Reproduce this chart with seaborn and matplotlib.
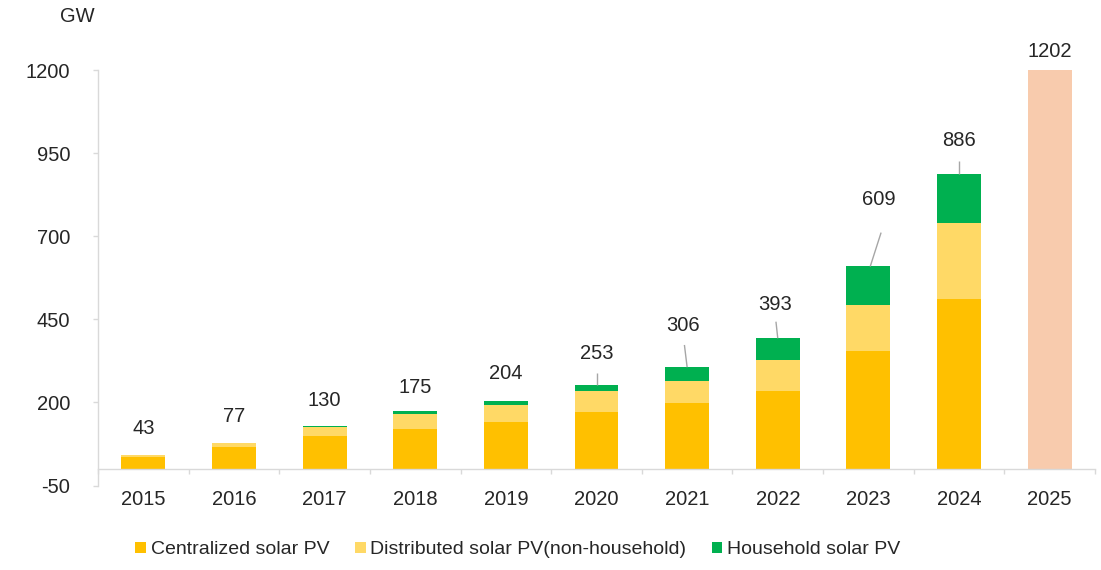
import matplotlib
matplotlib.use("Agg")
import matplotlib.pyplot as plt
from matplotlib.patches import Patch
from matplotlib.ticker import FixedLocator
import seaborn as sns
import pandas as pd
import numpy as np

# ---------------- data ----------------
years = ["2015", "2016", "2017", "2018", "2019", "2020",
         "2021", "2022", "2023", "2024", "2025"]
stack_years = years[:10]
centralized = [37, 67, 100, 120, 141, 172, 198, 234, 354, 511]
distributed = [6, 10, 27, 45, 51, 62, 68, 94, 140, 229]
household = [0, 0, 3, 10, 12, 19, 40, 65, 115, 146]
forecast_year = ["2025"]
forecast_value = [1202]
total_labels = [43, 77, 130, 175, 204, 253, 306, 393, 609, 886, 1202]
series_names = ["Centralized solar PV", "Distributed solar PV(non-household)",
                "Household solar PV"]
yticks = [-50, 200, 450, 700, 950, 1200]

# ---------------- annotation layout (data units) ----------------
label_y = [123, 159, 207, 246, 288, 346, 433, 496, 812, 987, 1255]
label_dx = [0, 0, 0, 0, 0, 0, -0.04, -0.03, 0.12, 0, 0]
leader_top = [None, None, None, None, None, 290, 373, 443, 711, 927, None]
leader_top_dx = [0, 0, 0, 0, 0, 0, -0.03, -0.02, 0.14, 0, 0]
leader_bot_dx = [0, 0, 0, 0, 0, 0, 0, 0, 0.02, 0, 0]

c_cent = "#FFC000"
c_dist = "#FFD966"
c_house = "#00B050"
c_fore = "#F8CBAD"
axis_col = "#D9D9D9"
text_col = "#262626"

sns.set_theme(style="white")
plt.rcParams["font.family"] = ["Liberation Sans", "DejaVu Sans"]

df = pd.DataFrame({"year": stack_years, "cent": centralized,
                   "dist": distributed, "house": household})
df["lvl1"] = df["cent"]
df["lvl2"] = df["cent"] + df["dist"]
df["lvl3"] = df["lvl2"] + df["house"]
df_f = pd.DataFrame({"year": forecast_year, "value": forecast_value})

fig = plt.figure(figsize=(11.01, 5.70), dpi=100)
ax = fig.add_axes([98 / 1101, (570 - 485.6) / 570, (1095 - 98) / 1101, (485.6 - 70) / 570])

bw = 0.485
common = dict(order=years, width=bw, errorbar=None, saturation=1, linewidth=0, ax=ax)
sns.barplot(data=df, x="year", y="lvl3", color=c_house, **common)
sns.barplot(data=df, x="year", y="lvl2", color=c_dist, **common)
sns.barplot(data=df, x="year", y="lvl1", color=c_cent, **common)
sns.barplot(data=df_f, x="year", y="value", color=c_fore, **common)

ax.set_xlim(-0.5, 10.5)
ax.set_ylim(-50, 1200)
ax.set_xlabel("")
ax.set_ylabel("")

for s in ["top", "right"]:
    ax.spines[s].set_visible(False)
for s in ["left", "bottom"]:
    ax.spines[s].set_color(axis_col)
    ax.spines[s].set_linewidth(1)
ax.spines["bottom"].set_position(("data", 0))

ax.set_yticks(yticks)
ax.set_yticklabels([str(v) for v in yticks])
ax.tick_params(axis="y", length=3.6, width=1, color=axis_col, pad=16.5,
               labelsize=14.5, labelcolor=text_col, left=True)
ax.xaxis.set_minor_locator(FixedLocator(np.arange(-0.5, 11, 1.0)))
ax.tick_params(axis="x", which="major", length=0, pad=15,
               labelsize=14.5, labelcolor=text_col, bottom=True)
ax.tick_params(axis="x", which="minor", length=3.6, width=1, color=axis_col,
               direction="out", bottom=True)
ax.grid(False)

totals_top = list(df["lvl3"]) + forecast_value
for i, lab in enumerate(total_labels):
    ax.text(i + label_dx[i], label_y[i], str(lab), ha="center", va="center",
            fontsize=14.5, color=text_col)
    if leader_top[i] is not None:
        ax.plot([i + leader_top_dx[i], i + leader_bot_dx[i]],
                [leader_top[i], totals_top[i]], color="#A6A6A6", lw=1,
                solid_capstyle="butt", zorder=5)

fig.text(77 / 1101, 1 - 16 / 570, "GW", ha="center", va="center",
         fontsize=14.5, color=text_col)

handles = [Patch(facecolor=c, edgecolor="none") for c in (c_cent, c_dist, c_house)]
fig.legend(handles, series_names, loc="center", bbox_to_anchor=(518 / 1101, 1 - 550 / 570),
           ncol=3, frameon=False, fontsize=14, handlelength=0.55, handleheight=0.55,
           handletextpad=0.25, columnspacing=1.3, labelcolor=text_col, borderpad=0)

fig.savefig("out.png", dpi=100)
